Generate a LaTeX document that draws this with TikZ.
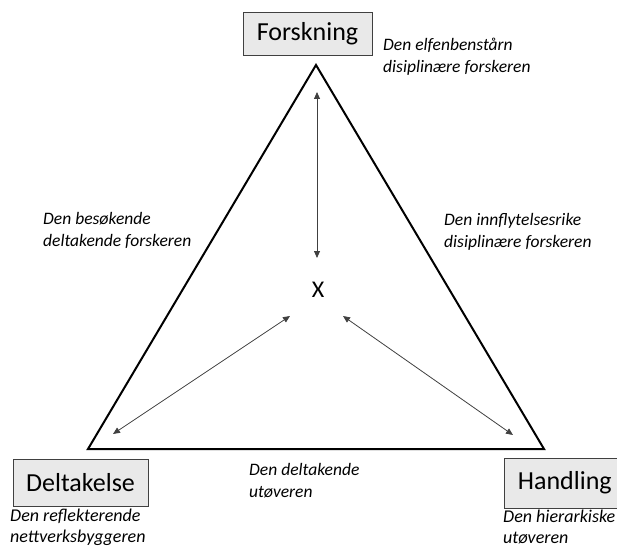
\documentclass[tikz,border=0pt]{standalone}
\usepackage{fontspec}
\setmainfont{Carlito}
\usetikzlibrary{arrows.meta}
\definecolor{boxfill}{HTML}{E9E9E9}
\definecolor{boxline}{HTML}{404040}
\definecolor{arrowgray}{HTML}{404040}
\begin{document}
\begin{tikzpicture}[x=1pt,y=-1pt,
  pole/.style={draw=boxline,line width=0.8pt,fill=boxfill,inner sep=0pt,
    font=\fontsize{26}{30}\selectfont},
  role/.style={anchor=west,align=left,inner sep=0pt,
    font=\fontsize{17.5}{22}\selectfont\itshape},
  footrole/.style={role,font=\fontsize{18}{21}\selectfont\itshape},
  link/.style={draw=arrowgray,line width=0.8pt,
    {Triangle[length=7pt,width=6pt]}-{Triangle[length=7pt,width=6pt]}}]
\useasboundingbox (0,0) rectangle (617,548);

% corner labels
\node[pole,minimum width=129pt,minimum height=43pt] (forsk) at (307.5,33.5) {Forskning};
\node[pole,minimum width=135pt,minimum height=47pt] (delta) at (80.5,482.5) {Deltakelse};
\node[pole,minimum width=130pt,minimum height=50pt,anchor=west,text width=125pt,align=left] (handl) at (504,483) {\hspace*{11pt}Handling};

% the triangle
\coordinate (top) at (316,65);
\coordinate (left) at (88,449);
\coordinate (right) at (544,449);
\draw[line width=2pt,line join=miter] (top) -- (right) -- (left) -- cycle;

% centre point and the arrows towards it
\node[font=\fontsize{24}{28}\selectfont] (x) at (318,290) {X};
\coordinate (vt) at (317,92);
\coordinate (vb) at (317,258);
\coordinate (ll) at (113,434);
\coordinate (lc) at (290,316);
\coordinate (rc) at (343,316);
\coordinate (rr) at (513,435);
\draw[link] (vt) -- (vb);
\draw[link] (ll) -- (lc);
\draw[link] (rc) -- (rr);

% role descriptions
\node[role] (r1) at (383,57) {Den elfenbenstårn\\disiplinære forskeren};
\node[role] (r2) at (43,230) {Den besøkende\\deltakende forskeren};
\node[role] (r3) at (444,232) {Den innflytelsesrike\\disiplinære forskeren};
\node[role] (r4) at (249,481) {Den deltakende\\utøveren};
\node[footrole] (r5) at (10,527) {Den reflekterende\\nettverksbyggeren};
\node[footrole] (r6) at (503,527) {Den hierarkiske\\utøveren};
\end{tikzpicture}
\end{document}
